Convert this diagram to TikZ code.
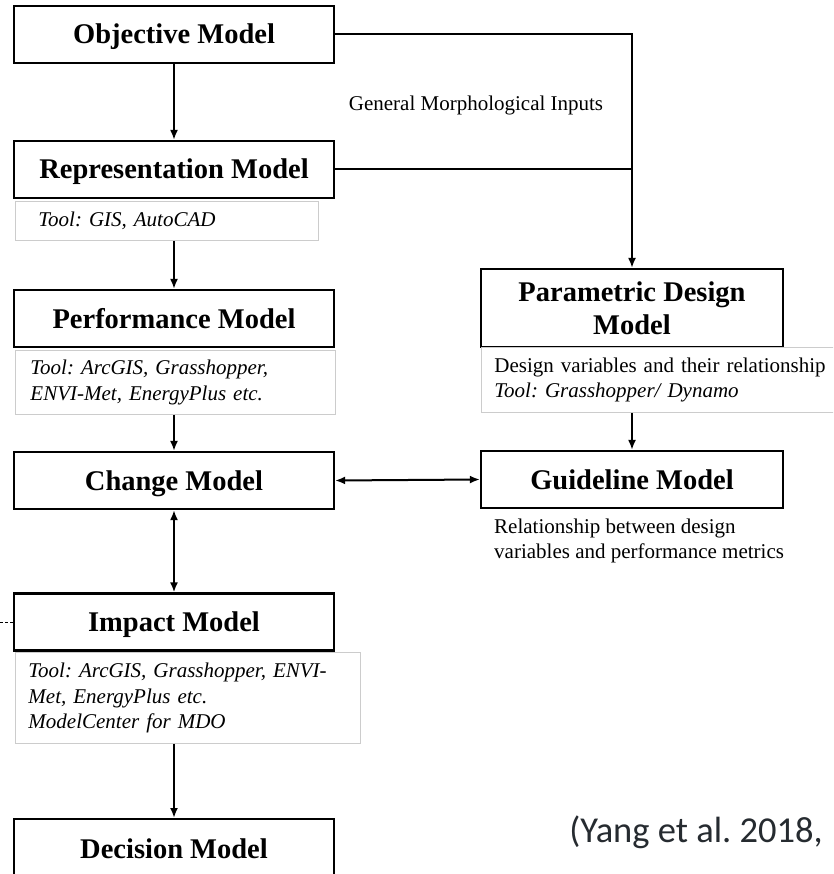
\documentclass[tikz,border=0pt]{standalone}
\usepackage{fontspec}
\setmainfont{Liberation Serif}
\newfontfamily\citefont{Carlito}
\usetikzlibrary{arrows.meta}
\frenchspacing
\definecolor{citegray}{rgb}{0.15,0.17,0.19}
\definecolor{toolline}{rgb}{0.80,0.80,0.80}
\tikzset{
  mbox/.style={draw,line width=2.2pt,minimum width=320pt,minimum height=57pt,inner sep=0pt,
    font=\fontsize{28.5}{33}\selectfont\bfseries\frenchspacing,align=center},
  sbox/.style={mbox,text height=19pt,text depth=0pt},
  tbox/.style={draw=toolline,line width=0.9pt,anchor=north west,align=left,inner ysep=0pt,
    font=\fontsize{21}{25.5}\selectfont\itshape\frenchspacing},
  tboxr/.style={tbox,font=\fontsize{21}{25.5}\selectfont\frenchspacing},
  plaintext/.style={inner sep=0pt,font=\fontsize{21}{25.5}\selectfont\frenchspacing,align=left},
  arr/.style={line width=2pt,-{Latex[length=10pt,width=8pt]}},
  darr/.style={line width=2pt,{Latex[length=10pt,width=8pt]}-{Latex[length=10pt,width=8pt]}},
  plainline/.style={line width=2pt}
}
\begin{document}
\begin{tikzpicture}[x=1pt,y=-1pt]
\clip (0,0) rectangle (833,874);
\fill[white] (0,0) rectangle (833,874);

% main boxes
\node[sbox] (obj) at (174,34.5) {Objective Model};
\node[sbox] (rep) at (174,169.5) {Representation Model};
\node[sbox] (perf) at (174,318.5) {Performance Model};
\node[sbox] (chg) at (174,480.5) {Change Model};
\node[sbox] (imp) at (174,622) {Impact Model};
\node[sbox,anchor=north,minimum height=60pt] (dec) at (174,818) {Decision Model};
\node[mbox,minimum width=302pt,minimum height=78pt] (par) at (632,308) {Parametric Design\\Model};
\node[sbox,minimum width=302pt] (guide) at (632,479.5) {Guideline Model};

% tool boxes
\node[tbox,inner xsep=23pt,text width=257pt,minimum height=39pt] (reptool) at (15,201)
  {Tool: GIS, AutoCAD};
\node[tbox,inner xsep=15pt,text width=290pt,minimum height=64pt] (perftool) at (15,350)
  {Tool: ArcGIS, Grasshopper,\\ENVI-Met, EnergyPlus etc.};
\node[tbox,inner xsep=13pt,text width=319pt,minimum height=91pt] (imptool) at (15,652)
  {Tool: ArcGIS, Grasshopper, ENVI-\\Met, EnergyPlus etc.\\ModelCenter for MDO};
\node[tboxr,inner xsep=13pt,text width=354pt,minimum height=65pt] (partool) at (481,347)
  {Design variables and their relationship\\\textit{Tool: Grasshopper/ Dynamo}};

% free texts
\node[plaintext,anchor=center] (gmi) at (476,105) {General Morphological Inputs};
\node[plaintext,anchor=west] (rel) at (494,541) {Relationship between design\\variables and performance metrics};
\node[inner sep=0pt,font=\citefont\fontsize{36.5}{40}\selectfont\frenchspacing,text=citegray] (cite) at (696,832) {(Yang et al. 2018,};

% connectors
\draw[arr] (obj) -- (rep);
\draw[arr] (obj.east) -- (obj.east -| par.north) -- (par.north);
\draw[plainline] (rep.east) -- (rep.east -| par.north);
\draw[arr] (reptool.south -| rep.south) -- (perf.north);
\draw[arr] (perftool.south -| perf.south) -- (chg.north);
\draw[darr] (chg.south) -- (imp.north);
\draw[arr] (imptool.south -| imp.south) -- (dec.north);
\draw[arr] (partool.south -| par.south) -- (guide.north);
\draw[darr] (chg.east) -- (guide.west);
\coordinate (dl) at (0,622);
\draw[line width=0.8pt,dash pattern=on 3pt off 2pt] (dl) -- (imp.west);
\end{tikzpicture}
\end{document}
